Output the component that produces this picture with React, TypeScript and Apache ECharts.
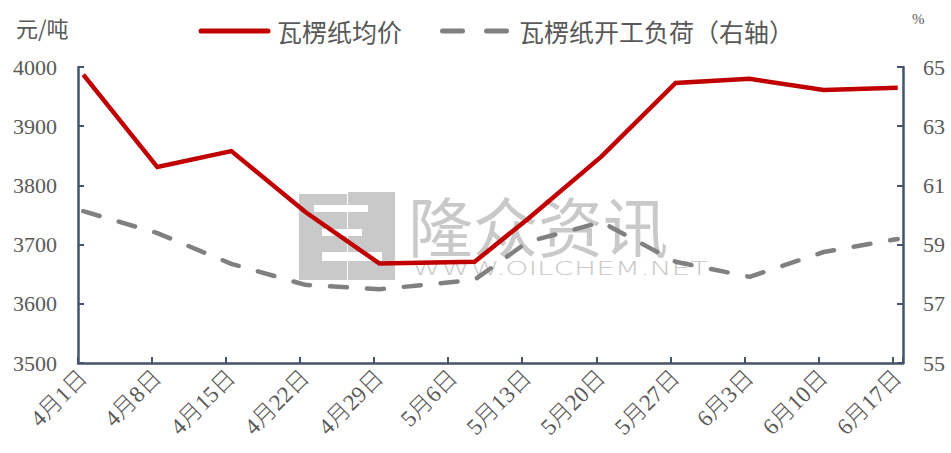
import React, { useEffect, useRef } from 'react';
import * as echarts from 'echarts';

// Daily category axis from 4月1日 to 6月17日 (weekly labels)
const axisMonths = [4, 5, 6];
const monthLengths: Record<number, number> = { 4: 30, 5: 31, 6: 17 };
const dayCategories: string[] = [];
axisMonths.forEach((m) => {
  for (let d = 1; d <= monthLengths[m]; d++) dayCategories.push(`${m}月${d}日`);
});

// Observation dates
const dates = ['4月1日', '4月8日', '4月15日', '4月22日', '4月29日', '5月8日', '5月13日', '5月20日', '5月27日', '6月3日', '6月10日', '6月17日'];
// 瓦楞纸均价 (元/吨)
const priceValues = [3987, 3831, 3858, 3755, 3668, 3671, 3743, 3849, 3973, 3980, 3961, 3965];
// 瓦楞纸开工负荷 (%)
const rateValues = [60.13, 59.39, 58.35, 57.64, 57.49, 57.81, 59.09, 59.76, 58.42, 57.91, 58.75, 59.19];

const AXIS_COLOR = '#44546A';
const TEXT_COLOR = '#595959';
const SANS = '"Noto Sans CJK SC", "Noto Sans", sans-serif';
const SERIF = '"Liberation Serif", "DejaVu Serif", "Noto Sans CJK SC", serif';

export default function App() {
  const ref = useRef<HTMLDivElement>(null);
  useEffect(() => {
    if (!ref.current) return;
    const chart = echarts.init(ref.current, null, { renderer: 'svg' });
    const wm = '#c9c9c9';
    chart.setOption({
      animation: false,
      backgroundColor: '#ffffff',
      grid: { left: 78, right: 48, top: 67, bottom: 90, containLabel: false },
      xAxis: {
        type: 'category',
        data: dayCategories,
        boundaryGap: true,
        axisLine: { show: true, lineStyle: { color: AXIS_COLOR, width: 2.5 } },
        axisTick: { show: true, inside: true, interval: 6, length: 6, lineStyle: { color: AXIS_COLOR, width: 2 } },
        axisLabel: { interval: 6, rotate: 45, color: TEXT_COLOR, fontSize: 23, fontFamily: SERIF, fontWeight: 300, margin: 11 },
        splitLine: { show: false },
      },
      yAxis: [
        {
          type: 'value', min: 3500, max: 4000, interval: 100, position: 'left',
          axisLine: { show: true, lineStyle: { color: AXIS_COLOR, width: 2.5 } },
          axisTick: { show: true, inside: true, length: 6, lineStyle: { color: AXIS_COLOR, width: 2 } },
          axisLabel: { color: TEXT_COLOR, fontSize: 22, fontFamily: SERIF, margin: 21, formatter: (v: number) => String(v) },
          splitLine: { show: false },
        },
        {
          type: 'value', min: 55, max: 65, interval: 2, position: 'right',
          axisLine: { show: true, lineStyle: { color: AXIS_COLOR, width: 2.5 } },
          axisTick: { show: true, inside: true, length: 6, lineStyle: { color: AXIS_COLOR, width: 2 } },
          axisLabel: { color: TEXT_COLOR, fontSize: 22, fontFamily: SERIF, margin: 20, formatter: (v: number) => String(v) },
          splitLine: { show: false },
        },
      ],
      series: [
        {
          name: '瓦楞纸均价', type: 'line', yAxisIndex: 0, symbol: 'none', z: 4,
          data: dates.map((d, i) => [d, priceValues[i]]),
          lineStyle: { color: '#C00000', width: 4.5, join: 'miter' },
        },
        {
          name: '瓦楞纸开工负荷（右轴）', type: 'line', yAxisIndex: 1, symbol: 'none', z: 3,
          data: dates.map((d, i) => [d, rateValues[i]]),
          lineStyle: { color: '#808080', width: 4.5, type: [17, 20], cap: 'round' },
        },
      ],
      graphic: [
        // watermark
        {
          type: 'group', z: 0, silent: true,
          children: [
            { type: 'rect', shape: { x: 299, y: 194, width: 48, height: 86 }, style: { fill: wm } },
            { type: 'rect', shape: { x: 348, y: 192, width: 47, height: 88 }, style: { fill: wm } },
            { type: 'rect', shape: { x: 314, y: 205, width: 54, height: 7 }, style: { fill: '#ffffff' } },
            { type: 'rect', shape: { x: 322, y: 252, width: 60, height: 9 }, style: { fill: '#ffffff' } },
            { type: 'rect', shape: { x: 322, y: 229, width: 40, height: 7 }, style: { fill: '#ffffff' } },
            { type: 'text', x: 408, y: 224, style: { text: '隆众资讯', fontSize: 65, fontFamily: SANS, fontWeight: 'normal', fill: wm, verticalAlign: 'middle' } },
            { type: 'text', x: 412, y: 268, scaleX: 1.55, style: { text: 'WWW.OILCHEM.NET', fontSize: 19, fontFamily: '"DejaVu Sans", sans-serif', fontWeight: 200, fill: wm, verticalAlign: 'middle' } },
          ],
        },
        // axis titles
        { type: 'text', x: 16, y: 27, style: { text: '元/吨', fontSize: 22, fontFamily: SANS, fill: TEXT_COLOR, verticalAlign: 'middle' } },
        { type: 'text', x: 912, y: 19, style: { text: '%', fontSize: 15, fontFamily: SERIF, fill: TEXT_COLOR, verticalAlign: 'middle' } },
        // legend
        { type: 'line', shape: { x1: 201, y1: 31, x2: 268, y2: 31 }, style: { stroke: '#C00000', lineWidth: 5, lineCap: 'round' } },
        { type: 'text', x: 277, y: 31, style: { text: '瓦楞纸均价', fontSize: 25, fontFamily: SANS, fill: TEXT_COLOR, verticalAlign: 'middle' } },
        { type: 'line', shape: { x1: 442.5, y1: 31, x2: 506.5, y2: 31 }, style: { stroke: '#808080', lineWidth: 5, lineCap: 'round', lineDash: [20, 24] } },
        { type: 'text', x: 519, y: 31, style: { text: '瓦楞纸开工负荷（右轴）', fontSize: 25, fontFamily: SANS, fill: TEXT_COLOR, verticalAlign: 'middle' } },
      ],
    });
    return () => chart.dispose();
  }, []);
  return <div ref={ref} style={{ width: 951, height: 453, position: 'absolute', left: 0, top: 0 }} />;
}
